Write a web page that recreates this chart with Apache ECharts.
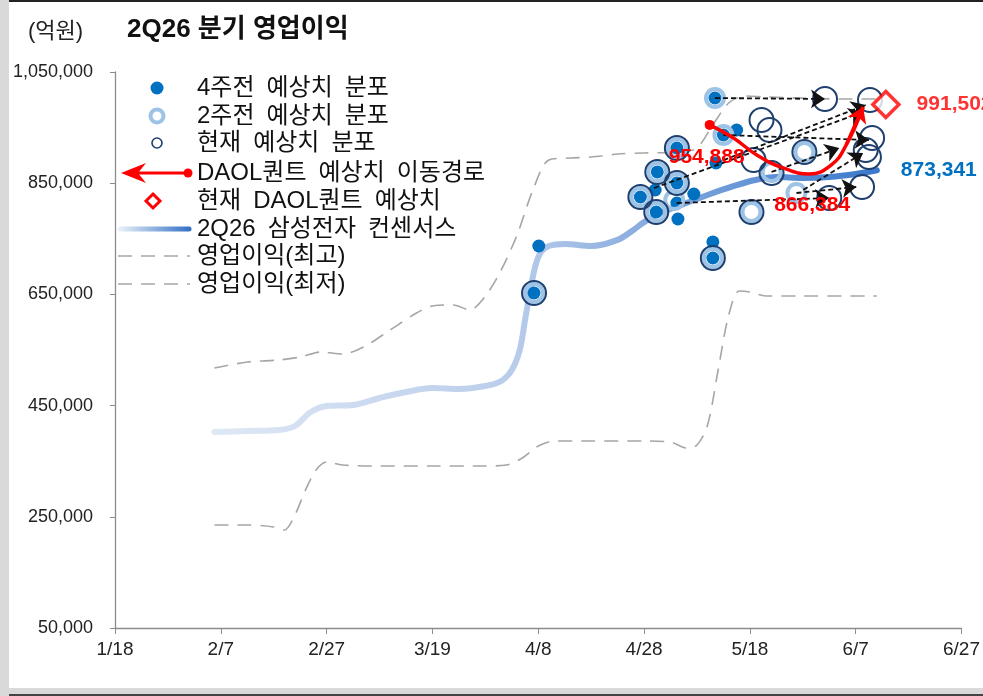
<!DOCTYPE html>
<html><head><meta charset="utf-8">
<script src="https://cdn.jsdelivr.net/npm/echarts@6/dist/echarts.min.js"></script>
<style>html,body{margin:0;padding:0;background:#fff;}#c{width:983px;height:696px;}</style>
</head><body><div id="c"></div>
<script>
// ---- data (x = days since 1/18, y = 억원) ----
const xTickLabels = ['1/18','2/7','2/27','3/19','4/8','4/28','5/18','6/7','6/27'];
const yTickLabels = ['50,000','250,000','450,000','650,000','850,000','1,050,000'];

const consensus = [[18.8,402500],[25,404300],[31,406100],[34,413300],[37,438500],[40,449300],[45,451100],[50,463700],[55,474500],[60,481700],[65,479900],[70,485300],[73,494200],[75,514000],[76.5,550000],[77.5,604000],[78.5,658000],[79.5,703000],[80.5,726000],[82,737000],[85,740600],[90,737000],[95,748000],[98,766000],[100,780000],[103,796400],[107,810800],[112,828800],[117,845000],[121,855800],[125,861000],[130,859400],[135,861200],[140,866600],[144,873341]];

const maxLine = [[18.8,517600],[25,528400],[31,532000],[35,537400],[39,546400],[43,542800],[47,555400],[52,586000],[57,616600],[60,629100],[64,631000],[67,622000],[70,647000],[73,694000],[76,757000],[79,838000],[82,891700],[86,895300],[90,897000],[95,902500],[100,904300],[107,906000],[110,913300],[113,954700],[116,994300],[119,1006800],[123,1005000],[130,1003000],[137,1001500],[144,1001500]];

const minLine = [[18.8,235300],[25,235300],[30,231700],[32,226300],[34,253200],[36,298200],[38,334200],[40,348600],[43,343200],[50,341400],[60,341400],[70,341400],[74,343200],[77,355800],[80,377300],[83,386300],[90,386300],[100,386300],[105,384500],[108,373700],[110,379100],[112,415100],[114,514000],[116,613000],[118,656100],[120,654300],[123,647100],[130,647100],[144,647100]];

const est4w = [[79.2,652500],[80.1,737000],[99.3,825200],[102.3,798200],[102.1,837800],[102.5,870200],[106.2,913300],[106.2,850400],[109.4,830600],[106.4,785600],[106.2,814400],[113.0,744300],[113.0,715500],[113.4,1003200],[115.0,936700],[117.5,945700],[113.6,886300]];

const est2w = [[79.2,652500],[99.3,825200],[102.3,798200],[102.5,870200],[106.2,913300],[106.2,850400],[105.7,819800],[113.0,715500],[113.4,1003200],[115.0,936700],[120.3,798200],[124.1,870200],[130.3,906100],[128.8,832400]];

const estNow = [[79.2,652500],[99.3,825200],[102.3,798200],[102.5,870200],[106.2,913300],[106.2,850400],[113.0,715500],[122.2,963700],[123.7,945700],[120.7,891700],[124.1,868400],[130.3,906100],[120.3,798200],[135.0,823400],[134.2,1001500],[142.7,999700],[143.1,931300],[141.9,909700],[142.5,897100],[141.2,843200]];

const revFrom = [[113.4,1003200],[115.0,936700],[113.6,886300],[101.9,841400],[106.2,814400],[128.8,832400],[124.1,870200],[130.1,838000]];
const revTo   = [[134.2,1001500],[142.5,927700],[141.9,990700],[141.4,978000],[135.0,823400],[140.1,843200],[136.9,913300],[141.4,904300]];

const daolPath = [[112.4,954888],[116.9,931300],[121.3,900700],[126.3,877400],[131.2,866384],[135.4,882800],[138.2,918700],[141.4,987000]];
const daolNow = [[145.7,991502]];

// ---- helpers ----
const fmt = v => Math.round(v).toString().replace(/\B(?=(\d{3})+(?!\d))/g, ',');
const NUM_FONT = "'Liberation Sans Narrow','Arial Narrow','Liberation Sans',Arial,sans-serif";
const KR_FONT = "'Liberation Sans','Noto Sans CJK KR',sans-serif";
const GRAY = '#a6a6a6';
const NAVY = '#1f3f6e';
const BLUE = '#0070c0';
const LIGHT = '#9dc3e6';
const DASH = [14,9];

const chart = echarts.init(document.getElementById('c'), null, {renderer:'canvas'});

const consGrad = new echarts.graphic.LinearGradient(0,0,1,0,[
  {offset:0,color:'#dfe8f5'},{offset:0.45,color:'#b9cdeb'},{offset:0.62,color:'#8fb0e0'},{offset:1,color:'#3a78cc'}]);

const legendX = 197;
const legendRows = [88,116,143,173,201,229,256,284];
const SP = '\u2002';
const legendTexts = ['4주전 예상치 분포','2주전 예상치 분포','현재 예상치 분포','DAOL퀀트 예상치 이동경로','현재 DAOL퀀트 예상치','2Q26 삼성전자 컨센서스','영업이익(최고)','영업이익(최저)'];

const graphics = [
  {type:'rect', shape:{x:0,y:0,width:9,height:696}, style:{fill:'#d9d9d9'}, silent:true},
  {type:'rect', shape:{x:0,y:688,width:983,height:8}, style:{fill:'#d9d9d9'}, silent:true},
  {type:'line', shape:{x1:9,y1:1,x2:983,y2:1}, style:{stroke:'#222',lineWidth:2}, silent:true},
  {type:'line', shape:{x1:9,y1:695,x2:983,y2:695}, style:{stroke:'#444',lineWidth:2}, silent:true},
  {type:'text', x:28, y:32, style:{text:'(억원)', fontSize:22, fontFamily:KR_FONT, fill:'#222', verticalAlign:'middle'}},
  {type:'text', x:127, y:30, style:{text:'2Q26 분기 영업이익', fontSize:26, fontWeight:'bold', fontFamily:KR_FONT, fill:'#111', verticalAlign:'middle'}},
  // legend icons
  {type:'circle', shape:{cx:157,cy:legendRows[0],r:6.5}, style:{fill:BLUE}},
  {type:'circle', shape:{cx:157,cy:legendRows[1],r:6.5}, style:{fill:'#fff',stroke:LIGHT,lineWidth:4}},
  {type:'circle', shape:{cx:157,cy:legendRows[2],r:5}, style:{fill:'#fff',stroke:NAVY,lineWidth:1.6}},
  {type:'line', shape:{x1:134,y1:legendRows[3],x2:188,y2:legendRows[3]}, style:{stroke:'#ff0000',lineWidth:3}},
  {type:'polygon', shape:{points:[[121,legendRows[3]],[146,legendRows[3]-10],[138,legendRows[3]],[146,legendRows[3]+10]]}, style:{fill:'#ff0000'}},
  {type:'circle', shape:{cx:188,cy:legendRows[3],r:4.5}, style:{fill:'#ff0000'}},
  {type:'polygon', shape:{points:[[153,legendRows[4]-7],[160,legendRows[4]],[153,legendRows[4]+7],[146,legendRows[4]]]}, style:{fill:'#fff',stroke:'#ff0000',lineWidth:3}},
  {type:'line', shape:{x1:120,y1:legendRows[5],x2:189,y2:legendRows[5]}, style:{stroke:new echarts.graphic.LinearGradient(0,0,1,0,[{offset:0,color:'#eef3fa'},{offset:1,color:'#2f6fc4'}]),lineWidth:5,lineCap:'round'}},
  {type:'line', shape:{x1:118,y1:legendRows[6],x2:190,y2:legendRows[6]}, style:{stroke:GRAY,lineWidth:1.6,lineDash:DASH}},
  {type:'line', shape:{x1:118,y1:legendRows[7],x2:190,y2:legendRows[7]}, style:{stroke:GRAY,lineWidth:1.6,lineDash:DASH}}
];
legendTexts.forEach((t,i)=>{
  graphics.push({type:'text', x:legendX, y:legendRows[i], style:{text:t.split(' ').join(SP), fontSize:24, fontFamily:KR_FONT, fill:'#111', verticalAlign:'middle'}});
});

const option = {
  animation:false,
  backgroundColor:'#fff',
  grid:{left:115,right:17,top:72,bottom:68,containLabel:false},
  xAxis:{type:'value',min:0,max:160,interval:20,
    axisLine:{lineStyle:{color:'#8c8c8c',width:1.3}},
    axisTick:{show:true,length:6,lineStyle:{color:'#8c8c8c'}},
    splitLine:{show:false},
    axisLabel:{margin:12,color:'#222',fontSize:19,fontFamily:NUM_FONT,showMinLabel:true,showMaxLabel:true,
      formatter:v=>xTickLabels[Math.round(v/20)]}},
  yAxis:{type:'value',min:50000,max:1050000,interval:200000,
    axisLine:{show:true,lineStyle:{color:'#8c8c8c',width:1.3}},
    axisTick:{show:true,length:5,lineStyle:{color:'#8c8c8c'}},
    splitLine:{show:false},
    axisLabel:{margin:22,color:'#222',fontSize:18,fontFamily:NUM_FONT,showMinLabel:true,showMaxLabel:true,
      formatter:v=>yTickLabels[Math.round((v-50000)/200000)]}},
  graphic:graphics,
  series:[
    {type:'line',name:'max',data:maxLine,smooth:0.3,symbol:'none',z:1,
      lineStyle:{color:GRAY,width:1.6,type:DASH}},
    {type:'line',name:'min',data:minLine,smooth:0.3,symbol:'none',z:1,
      lineStyle:{color:GRAY,width:1.6,type:DASH}},
    {type:'line',name:'consensus',data:consensus,smooth:0.35,symbol:'none',z:2,
      lineStyle:{color:consGrad,width:6,cap:'round'},
      endLabel:{show:true,formatter:p=>fmt(p.value[1]),color:BLUE,fontWeight:'bold',fontSize:21,fontFamily:NUM_FONT,distance:24}},
    {type:'scatter',name:'4w',data:est4w,symbol:'circle',symbolSize:13,z:3,
      itemStyle:{color:BLUE,opacity:1}},
    {type:'scatter',name:'2w',data:est2w,symbol:'circle',symbolSize:18,z:4,
      itemStyle:{color:'rgba(255,255,255,0)',borderColor:LIGHT,borderWidth:4,opacity:1}},
    {type:'scatter',name:'now',data:estNow,symbol:'circle',symbolSize:24,z:5,
      itemStyle:{color:'rgba(255,255,255,0)',borderColor:NAVY,borderWidth:2,opacity:1}},
    {type:'lines',coordinateSystem:'cartesian2d',z:6,
      data:revFrom.map((f,i)=>({coords:[f,revTo[i]]})),
      symbol:['none','arrow'],symbolSize:14,
      lineStyle:{color:'#111',width:1.8,type:[5,3],opacity:1,curveness:0}},
    {type:'line',name:'daol',data:daolPath.map((p,i)=>{
        const item={value:p,symbol:'circle',symbolSize:i===0?10:0.01,itemStyle:{color:'#ff0000'}};
        if(i===0) item.label={show:true,position:'bottom',offset:[-3,12]};
        if(i===4) item.label={show:true,position:'bottom',offset:[3,16]};
        return item;}),
      smooth:0.45,showSymbol:true,z:7,
      lineStyle:{color:'#ff0000',width:3.5},
      label:{show:false,formatter:p=>fmt(p.value[1]),color:'#ff0000',fontWeight:'bold',fontSize:21,fontFamily:NUM_FONT}},
    {type:'lines',coordinateSystem:'cartesian2d',z:7,
      data:[{coords:[daolPath[daolPath.length-2],daolPath[daolPath.length-1]]}],
      symbol:['none','arrow'],symbolSize:15,
      lineStyle:{color:'#ff0000',width:3.5,opacity:1}},
    {type:'scatter',name:'daolNow',data:daolNow,symbol:'diamond',symbolSize:[26,26],z:8,
      itemStyle:{color:'#fff',borderColor:'#ff0000',borderWidth:3.5},
      label:{show:true,position:'right',distance:16,formatter:p=>fmt(p.value[1]),color:'#ff0000',fontWeight:'bold',fontSize:21,fontFamily:NUM_FONT}}
  ]
};
chart.setOption(option);
</script></body></html>
